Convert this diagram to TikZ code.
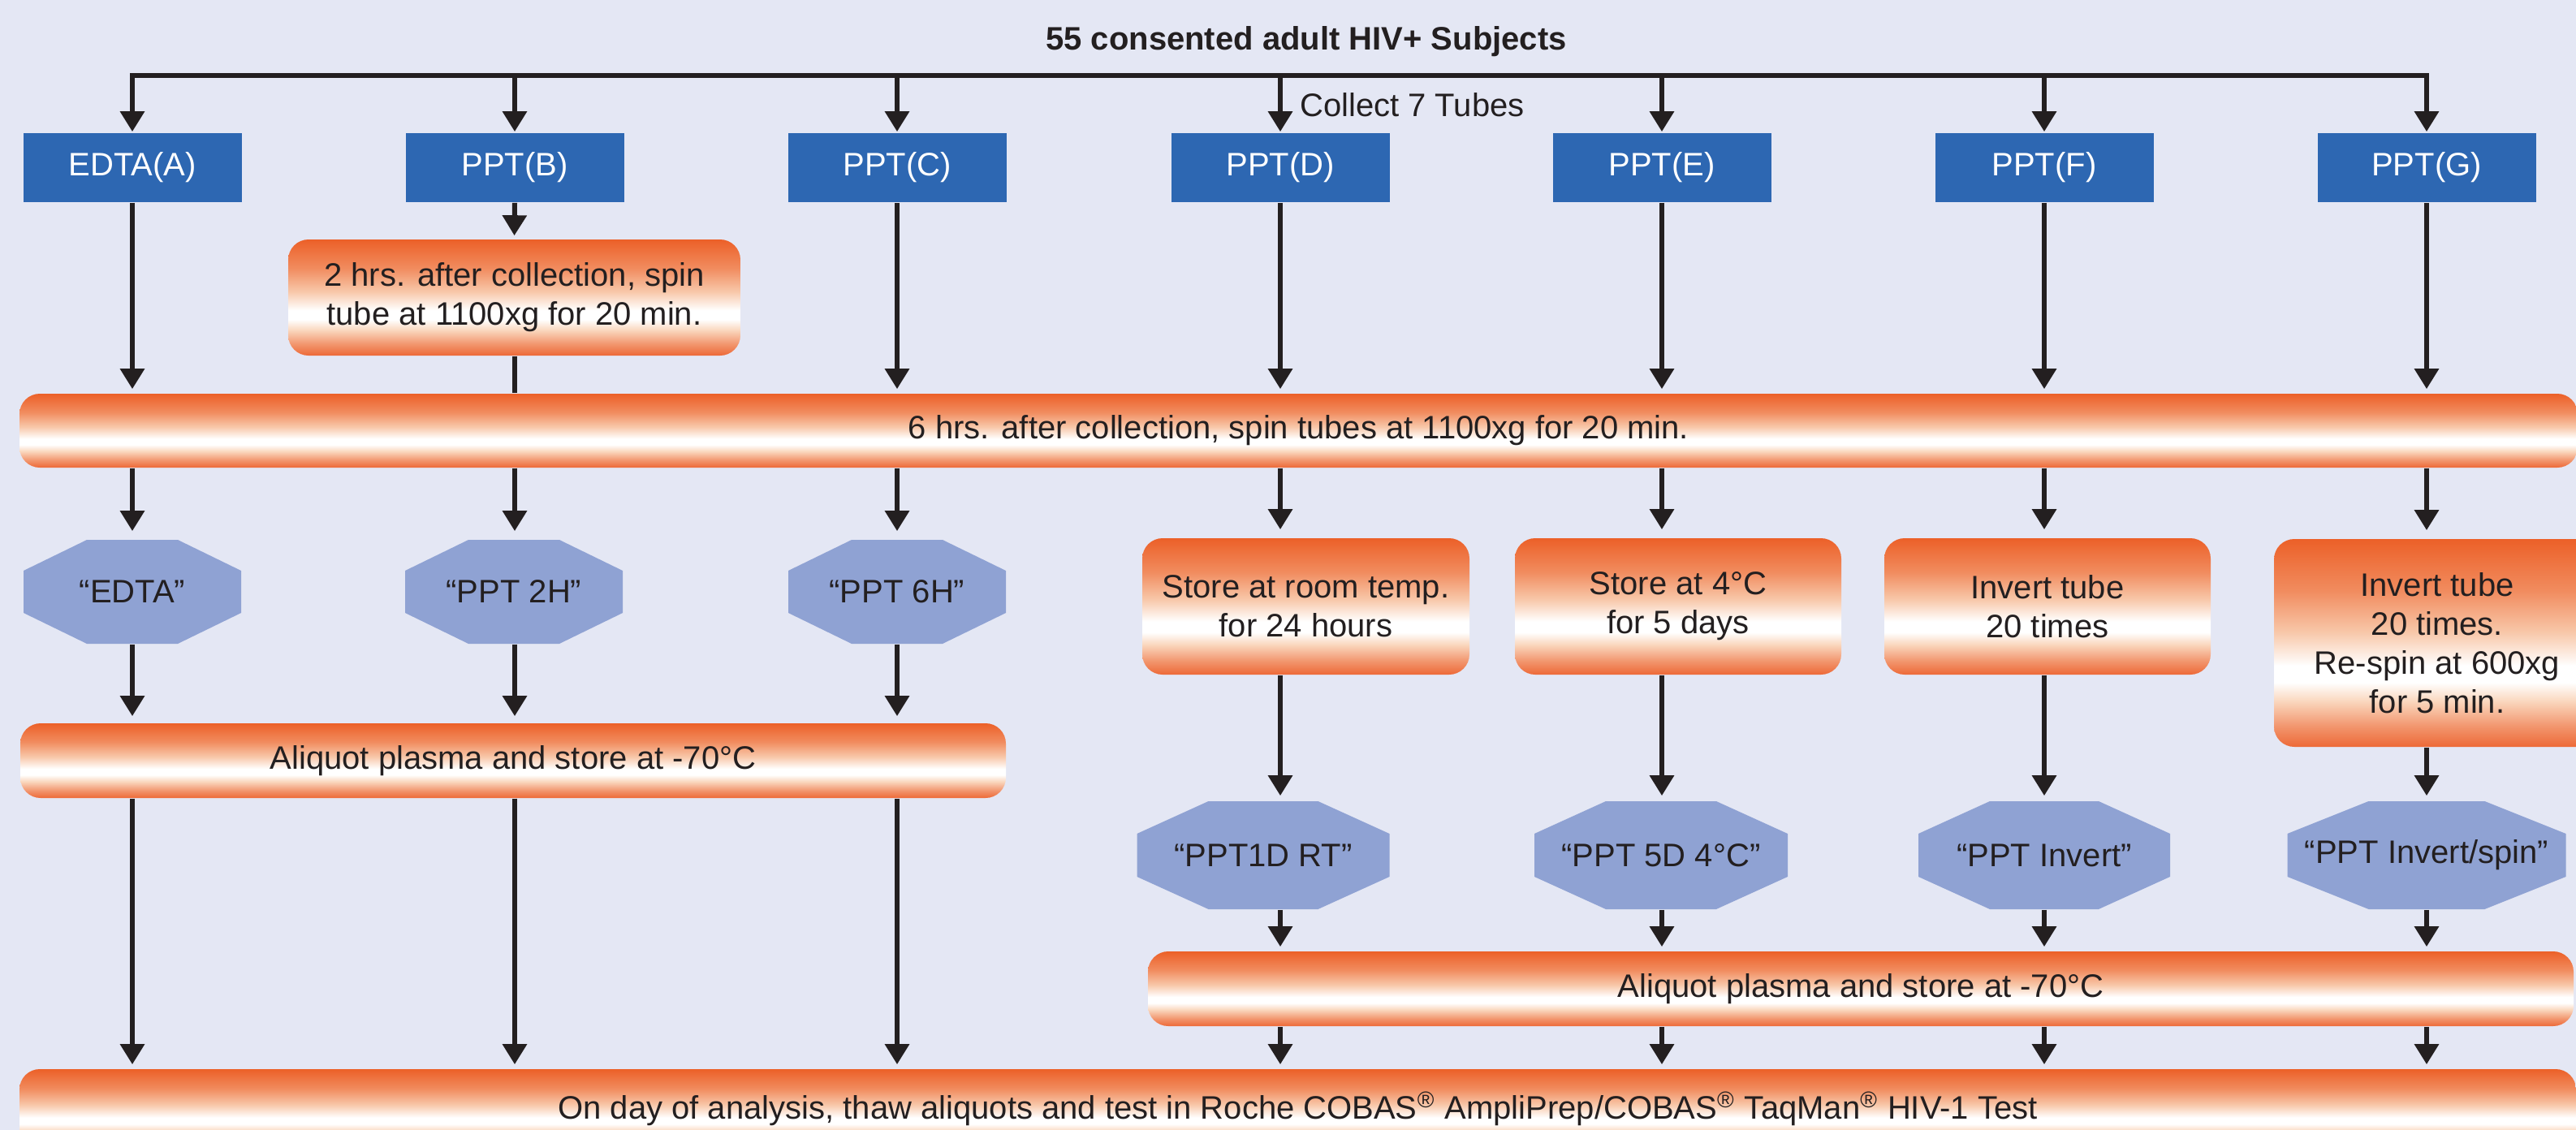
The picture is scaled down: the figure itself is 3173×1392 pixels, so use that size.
\documentclass[tikz,border=0pt]{standalone}
\usepackage{fontspec}
\setmainfont{Liberation Sans}
\usetikzlibrary{arrows.meta}
\definecolor{bg}{RGB}{228,231,244}
\definecolor{tubeblue}{RGB}{45,103,178}
\definecolor{octblue}{RGB}{143,162,211}
\definecolor{ink}{RGB}{35,31,32}
\definecolor{otop}{RGB}{236,96,40}
\definecolor{obot}{RGB}{237,105,55}
\definecolor{oA75}{RGB}{241,140,95}
\definecolor{oA55}{RGB}{248,200,170}
\definecolor{oA22}{RGB}{250,215,190}
\definecolor{oA10}{RGB}{242,150,110}
\pgfdeclareverticalshading{tube}{100bp}{color(0bp)=(obot); color(25bp)=(obot); color(30bp)=(oA10); color(36bp)=(oA22); color(40.5bp)=(white); color(44.5bp)=(white); color(52.5bp)=(oA55); color(62.5bp)=(oA75); color(75bp)=(otop); color(100bp)=(otop)}
\def\u{0.25pt}
\begin{document}
\begin{tikzpicture}[x=0.25pt,y=-0.25pt,
  font=\fontsize{10pt}{12pt}\selectfont, text=ink,
  bluebox/.style={fill=tubeblue, text=white, minimum width=269*\u, minimum height=85*\u, inner sep=0pt},
  orbox/.style={shading=tube, rounded corners=25*\u, inner sep=0pt, align=center},
  octo/.style n args={4}{minimum width=#1*\u, minimum height=#2*\u, inner sep=0pt, fill=bg,
    path picture={\fill[octblue]
      ([xshift=#3*\u]path picture bounding box.north west) --
      ([xshift=-#3*\u]path picture bounding box.north east) --
      ([yshift=-#4*\u]path picture bounding box.north east) --
      ([yshift=#4*\u]path picture bounding box.south east) --
      ([xshift=-#3*\u]path picture bounding box.south east) --
      ([xshift=#3*\u]path picture bounding box.south west) --
      ([yshift=#4*\u]path picture bounding box.south west) --
      ([yshift=-#4*\u]path picture bounding box.north west) -- cycle;}},
  arr/.style={draw=ink, line width=1.5pt, -{Triangle[length=6.25pt,width=7.25pt]}, shorten >=5*\u},
  link/.style={draw=ink, line width=1.5pt}]
\fill[bg] (0,0) rectangle (3173,1392);
\useasboundingbox (0,0) rectangle (3173,1392);

% title and collection line
\node[font=\fontsize{10pt}{12pt}\selectfont\bfseries] (title) at (1609,51) {55 consented adult HIV+ Subjects};
\coordinate (tA) at (163,93);
\coordinate (tB) at (634,93);
\coordinate (tC) at (1105,93);
\coordinate (tD) at (1577,93);
\coordinate (tE) at (2047,93);
\coordinate (tF) at (2518,93);
\coordinate (tG) at (2989,93);
\node[anchor=west] (collect) at (1587,129) {Collect 7 Tubes};

% tubes
\node[bluebox] (bA) at (163,206.5) {EDTA(A)};
\node[bluebox] (bB) at (634,206.5) {PPT(B)};
\node[bluebox] (bC) at (1105,206.5) {PPT(C)};
\node[bluebox] (bD) at (1577,206.5) {PPT(D)};
\node[bluebox] (bE) at (2047,206.5) {PPT(E)};
\node[bluebox] (bF) at (2518,206.5) {PPT(F)};
\node[bluebox] (bG) at (2989,206.5) {PPT(G)};

\node[orbox, minimum width=557*\u, minimum height=143*\u] (rB) at (633.5,366.5) {2 hrs. after collection, spin\\tube at 1100xg for 20 min.};

\node[orbox, minimum width=3151*\u, minimum height=91*\u] (six) at (1599.5,530.5) {6 hrs. after collection, spin tubes at 1100xg for 20 min.};

% left branch
\node[octo={268}{128}{78}{38}] (oA) at (163,729) {“EDTA”};
\node[octo={268}{128}{78}{38}] (oB) at (633,729) {“PPT 2H”};
\node[octo={268}{128}{78}{38}] (oC) at (1105,729) {“PPT 6H”};
\node[orbox, minimum width=1214*\u, minimum height=92*\u] (alA) at (632,937) {Aliquot plasma and store at -70°C};

% right branch
\node[orbox, minimum width=403*\u, minimum height=168*\u] (rD) at (1608.5,747) {Store at room temp.\\for 24 hours};
\node[orbox, minimum width=402*\u, minimum height=168*\u] (rE) at (2067,747) {Store at 4°C\\for 5 days};
\node[orbox, minimum width=402*\u, minimum height=168*\u] (rF) at (2522,747) {Invert tube\\20 times};
\node[orbox, minimum width=402*\u, minimum height=256*\u] (rG) at (3002,792) {Invert tube\\20 times.\\Re-spin at 600xg\\for 5 min.};

\node[octo={311}{133}{88}{40}] (oD) at (1556,1053.5) {“PPT1D RT”};
\node[octo={312}{133}{88}{40}] (oE) at (2046,1053.5) {“PPT 5D 4°C”};
\node[octo={310}{133}{88}{40}] (oF) at (2518,1053.5) {“PPT Invert”};
\node[octo={343}{133}{100}{40}] (oG) at (2989,1053.5) {“PPT Invert/spin”};

\node[orbox, minimum width=1756*\u, minimum height=92*\u] (alD) at (2292,1218) {Aliquot plasma and store at -70°C};

\node[orbox, minimum width=3149*\u, minimum height=98*\u] (fin) at (1598.5,1366) {On day of analysis, thaw aliquots and test in Roche COBAS\textsuperscript{®} AmpliPrep/COBAS\textsuperscript{®} TaqMan\textsuperscript{®} HIV-1 Test};

% connectors
\draw[link, line cap=rect] (tA) -- (tG);
\foreach \c in {A,B,C,D,E,F,G} \draw[arr, shorten >=1*\u] (t\c) -- (b\c.north);
\draw[arr, shorten >=4*\u] (bB.south) -- (rB.north);
\draw[link] (rB.south) -- (rB.south |- six.north);
\foreach \c in {A,C,D,E,F,G} \draw[arr] (b\c.south) -- (b\c.south |- six.north);
\foreach \c in {A,B,C} \draw[arr, shorten >=10*\u] (t\c |- six.south) -- (t\c |- o\c.north);
\foreach \c in {D,E,F,G} \draw[arr, shorten >=10*\u] (t\c |- six.south) -- (t\c |- r\c.north);
\foreach \c in {A,B,C} \draw[arr, shorten >=8*\u] (t\c |- o\c.south) -- (t\c |- alA.north);
\foreach \c in {A,B,C} \draw[arr] (t\c |- alA.south) -- (t\c |- fin.north);
\foreach \c in {D,E,F,G} \draw[arr, shorten >=6*\u] (t\c |- r\c.south) -- (t\c |- o\c.north);
\foreach \c in {D,E,F,G} \draw[arr] (t\c |- o\c.south) -- (t\c |- alD.north);
\foreach \c in {D,E,F,G} \draw[arr] (t\c |- alD.south) -- (t\c |- fin.north);
\end{tikzpicture}
\end{document}
